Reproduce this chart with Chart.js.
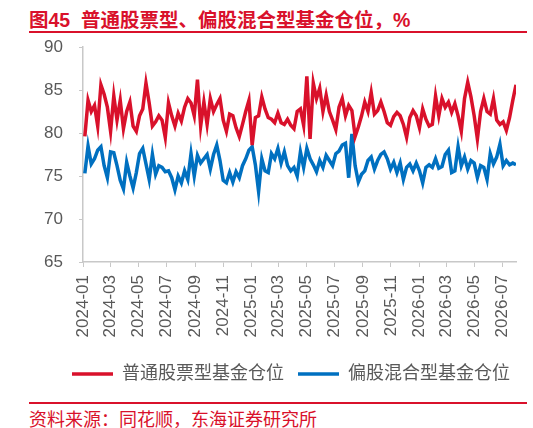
<!DOCTYPE html>
<html>
<head>
<meta charset="utf-8">
<script src="https://cdn.jsdelivr.net/npm/chart.js@4.4.1/dist/chart.umd.min.js"></script>
<style>
  html, body { margin: 0; padding: 0; background: #fff; }
  body { width: 533px; height: 428px; position: relative; overflow: hidden;
         font-family: "Liberation Sans", "Noto Sans CJK SC", sans-serif; }
  #title { position: absolute; left: 29px; top: 4px; font-size: 19.5px; font-weight: bold;
           color: #D9112B; white-space: pre; }
  #tline { position: absolute; left: 29px; top: 31px; width: 498px; height: 2px; background: #D9112B; }
  #bline { position: absolute; left: 29px; top: 402px; width: 498px; height: 2px; background: #D9112B; }
  #source { position: absolute; left: 29px; top: 405px; font-size: 18px; color: #D9112B; white-space: pre; }
  #wrap { position: absolute; left: 0; top: 0; width: 533px; height: 393px; }
</style>
</head>
<body>
<div id="title">图45  普通股票型、偏股混合型基金仓位，%</div>
<div id="tline"></div>
<div id="wrap"><canvas id="c"></canvas></div>
<div id="bline"></div>
<div id="source">资料来源：同花顺，东海证券研究所</div>
<script>
const seriesNames = ['普通股票型基金仓位', '偏股混合型基金仓位'];
const startDate = '2024-01-05';
const xTickLabels = ['2024-01','2024-03','2024-05','2024-07','2024-09','2024-11',
  '2025-01','2025-03','2025-05','2025-07','2025-09','2025-11',
  '2026-01','2026-03','2026-05','2026-07'];
const yTicks = [65, 70, 75, 80, 85, 90];

const stockFund = [
  79.6, 83.8, 82.5, 83.2, 80.8, 85.6, 84.5, 83.0, 80.2, 84.3, 81.5, 83.8, 80.5, 82.5, 83.6, 80.8,
  80.2, 82.0, 82.8, 85.8, 83.5, 80.8, 81.3, 82.0, 81.5, 79.5, 83.5, 82.0, 80.8, 82.3, 81.4, 83.0, 84.0,
  83.5, 82.0, 86.2, 80.8, 83.6, 81.0, 84.0, 82.5, 83.3, 84.0, 81.5, 80.2, 82.2, 82.0, 80.6, 79.6,
  81.0, 82.5, 83.8, 78.6, 81.8, 82.0, 84.2, 82.8, 81.8, 81.6, 81.2, 82.3, 81.2, 81.0, 81.6, 80.9, 80.5, 82.5,
  82.8, 80.9, 86.6, 79.3, 85.8, 84.0, 85.2, 82.5, 84.4, 82.5, 81.5, 80.4, 83.0, 84.0, 82.0, 83.2,
  82.6, 79.6, 80.7, 82.0, 83.6, 82.5, 84.7, 82.2, 82.6, 83.6, 82.5, 81.2, 80.9, 81.9, 82.4, 82.0, 81.0,
  79.5, 81.8, 82.6, 82.0, 80.6, 82.8, 81.6, 80.8, 81.0, 84.3, 82.0, 84.0, 83.0, 83.6, 82.4, 83.4,
  82.0, 80.2, 84.0, 85.9, 84.2, 82.0, 79.3, 82.5, 84.0, 82.5, 82.2, 84.0, 81.5, 81.0, 81.3, 80.3, 81.8, 83.8, 85.6
];
const hybridFund = [
  75.3, 78.5, 76.4, 77.0, 78.0, 78.4, 76.2, 74.8, 77.8, 77.7, 76.2, 74.5, 73.5, 76.6, 75.0, 73.6,
  75.4, 77.6, 78.2, 76.4, 74.6, 77.5, 75.2, 76.2, 76.0, 75.5, 75.6, 74.8, 73.4, 75.0, 74.2, 75.6, 74.6,
  77.6, 75.0, 77.4, 76.5, 77.0, 77.5, 75.8, 77.5, 78.6, 76.8, 74.5, 74.2, 75.4, 74.3, 75.5, 74.8,
  76.2, 77.0, 78.0, 78.4, 76.3, 73.2, 77.0, 75.6, 75.4, 77.6, 77.0, 78.2, 76.5, 77.8, 76.2, 75.6, 76.0, 75.0,
  77.8, 76.0, 78.2, 77.0, 76.3, 75.5, 76.8, 76.0, 77.4, 76.8, 76.2, 77.6, 77.9, 78.6, 78.8, 74.8,
  79.9, 76.2, 74.3, 75.2, 75.6, 76.8, 77.2, 75.8, 76.8, 77.5, 77.8, 77.0, 75.8, 76.6, 75.4, 76.5, 74.6,
  76.0, 76.4, 75.6, 76.5, 75.6, 74.2, 76.0, 76.3, 76.0, 77.0, 75.9, 76.1, 77.5, 78.0, 75.4, 75.6,
  78.4, 76.2, 77.2, 75.8, 76.8, 76.5, 74.8, 76.2, 76.0, 74.6, 77.6, 76.4, 77.2, 78.7, 76.2, 76.8, 76.3, 76.5, 76.3
];

const DAY = 86400000;
const dayOf = s => Date.UTC(+s.slice(0,4), +s.slice(5,7) - 1, +(s.slice(8,10) || 1)) / DAY;
const firstDay = dayOf(startDate);
const weekX = stockFund.map((_, i) => firstDay + 7 * i);
const xMin = dayOf(xTickLabels[0] + '-01');
const xMax = weekX[weekX.length - 1];

const RED = '#D9112B', BLUE = '#0070C0', GRID = '#C8C8C8', TXT = '#595959';
const FONT = '"Liberation Sans", "Noto Sans CJK SC", sans-serif';

const legendShift = {
  id: 'legendShift',
  afterLayout(chart) {
    const lg = chart.legend;
    if (lg) { lg.left += 33; lg.right += 33; }
  }
};

new Chart(document.getElementById('c'), {
  type: 'line',
  plugins: [legendShift],
  data: {
    datasets: [
      { label: seriesNames[0], data: stockFund.map((v, i) => ({x: weekX[i], y: v})),
        borderColor: RED, backgroundColor: RED, borderWidth: 3.5, pointRadius: 0, tension: 0 },
      { label: seriesNames[1], data: hybridFund.map((v, i) => ({x: weekX[i], y: v})),
        borderColor: BLUE, backgroundColor: BLUE, borderWidth: 3.5, pointRadius: 0, tension: 0 }
    ]
  },
  options: {
    responsive: true, maintainAspectRatio: false, animation: false,
    layout: { padding: { top: 47, right: 17, bottom: 0, left: 0 } },
    plugins: {
      tooltip: { enabled: false },
      legend: {
        position: 'bottom',
        labels: { usePointStyle: true, pointStyle: 'line', pointStyleWidth: 41, boxHeight: 18,
                  padding: 14, color: TXT, font: { family: FONT, size: 18 } }
      }
    },
    scales: {
      x: {
        type: 'linear', min: xMin, max: xMax,
        afterBuildTicks: s => { s.ticks = xTickLabels.map(l => ({ value: dayOf(l + '-01') })); },
        afterFit: s => { s.height = 89; },
        grid: { drawOnChartArea: false, drawTicks: true, tickLength: 5, color: GRID },
        border: { color: GRID, width: 1.5 },
        ticks: { autoSkip: false, maxRotation: 90, minRotation: 90, padding: 8, color: TXT,
                 font: { family: FONT, size: 17 },
                 callback: (v, i) => xTickLabels[i] }
      },
      y: {
        min: 65, max: 90,
        afterBuildTicks: s => { s.ticks = yTicks.map(v => ({ value: v })); },
        afterFit: s => { s.width = 83; },
        grid: { drawOnChartArea: false, drawTicks: true, tickLength: 4, color: GRID },
        border: { color: GRID, width: 1.5 },
        ticks: { padding: 16, color: TXT, font: { family: FONT, size: 17 } }
      }
    }
  }
});
</script>
</body>
</html>
